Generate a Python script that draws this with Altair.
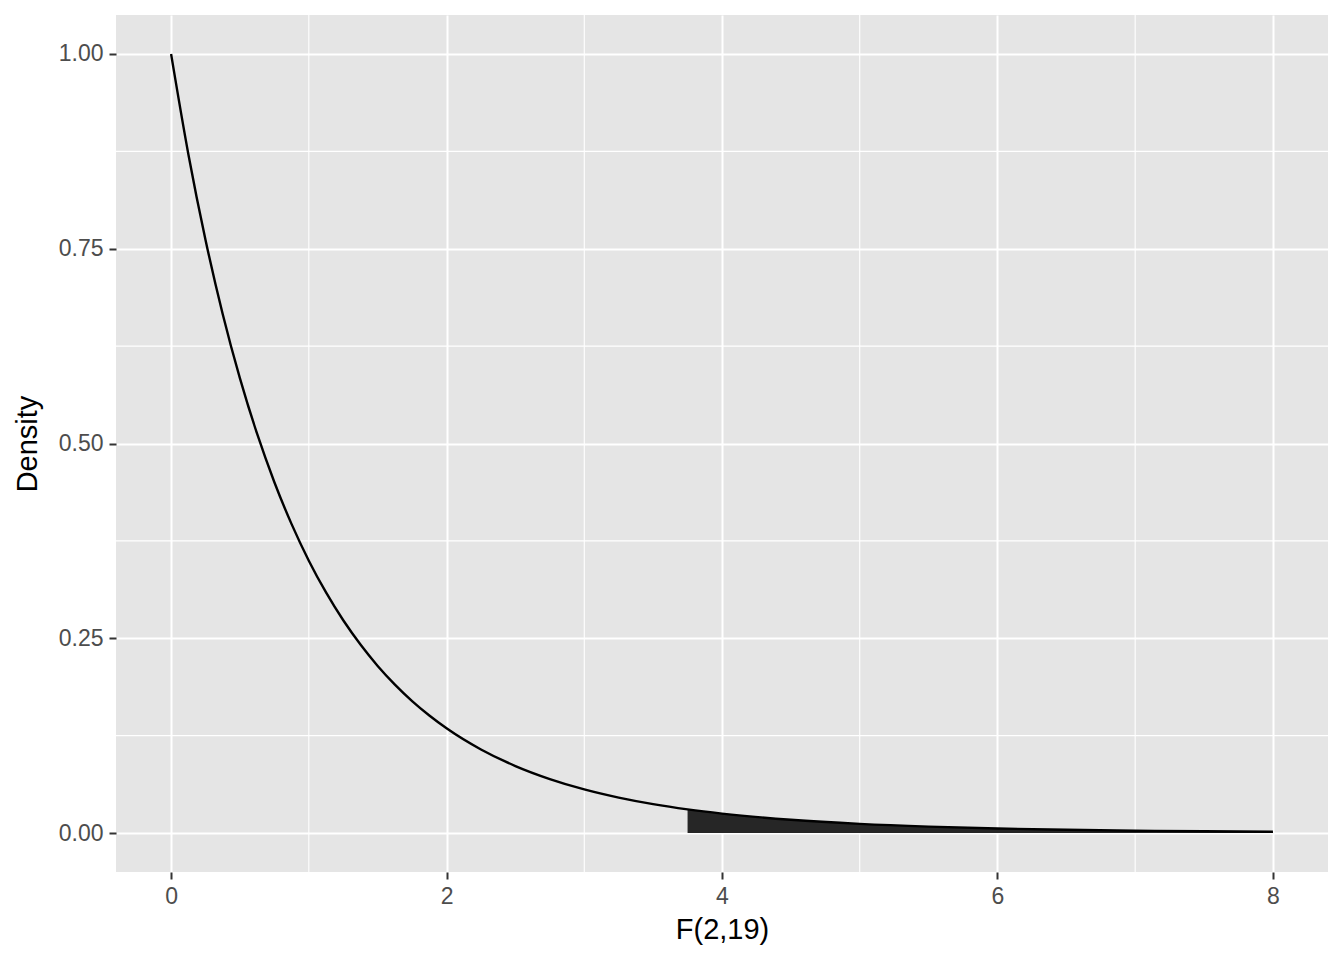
import altair as alt
import pandas as pd

# Values
x_vals = [0, 0.125, 0.25, 0.375, 0.5, 0.625, 0.75, 0.875, 1.0, 1.125, 1.25, 1.375, 1.5,
          1.625, 1.75, 1.875, 2.0, 2.25, 2.5, 2.75, 3.0, 3.25, 3.5, 3.75, 4.0, 4.5, 5.0,
          5.5, 6.0, 6.5, 7.0, 7.5, 8.0]
y_vals = [1.0, 0.8717, 0.7613, 0.6660, 0.5836, 0.5122, 0.4503, 0.3965, 0.3496, 0.3088,
          0.2731, 0.2419, 0.2145, 0.1905, 0.1694, 0.1509, 0.1345, 0.1073, 0.0860, 0.0693,
          0.0560, 0.0455, 0.0371, 0.0304, 0.0250, 0.0171, 0.0118, 0.00826, 0.00585,
          0.00420, 0.00304, 0.00222, 0.00164]
shade_start = 3.75

x_major = [0, 2, 4, 6, 8]
x_minor = [1, 3, 5, 7]
y_major = [0.0, 0.25, 0.5, 0.75, 1.0]
y_minor = [0.125, 0.375, 0.625, 0.875]

df = pd.DataFrame({"x": x_vals, "y": y_vals})
shade = df[df["x"] >= shade_start]

xs = alt.Scale(domain=[-0.4, 8.4], nice=False, zero=False)
ys = alt.Scale(domain=[-0.05, 1.05], nice=False, zero=False)

common = dict(grid=True, gridColor="white", gridWidth=2, domain=False,
              tickColor="#333333", tickWidth=2, tickSize=7,
              labelColor="#4D4D4D", labelFontSize=23, labelFont="Liberation Sans",
              titleFontSize=29, titleColor="black", titleFontWeight="normal",
              titleFont="Liberation Sans")
xaxis = alt.Axis(values=x_major, title="F(2,19)", labelPadding=6, titlePadding=7, **common)
yaxis = alt.Axis(values=y_major, format=".2f", title="Density", labelPadding=6,
                 titlePadding=16, **common)

minor_x = alt.Chart(pd.DataFrame({"v": x_minor})).mark_rule(color="white", strokeWidth=1.1).encode(
    x=alt.X("v:Q", scale=xs, axis=xaxis))
minor_y = alt.Chart(pd.DataFrame({"v": y_minor})).mark_rule(color="white", strokeWidth=1.1).encode(
    y=alt.Y("v:Q", scale=ys, axis=yaxis))

area = alt.Chart(shade).mark_area(color="#262626", interpolate="monotone").encode(
    x=alt.X("x:Q", scale=xs, axis=xaxis),
    y=alt.Y("y:Q", scale=ys, axis=yaxis),
    y2=alt.datum(0))

line = alt.Chart(df).mark_line(color="black", strokeWidth=2.4, interpolate="monotone").encode(
    x=alt.X("x:Q", scale=xs, axis=xaxis),
    y=alt.Y("y:Q", scale=ys, axis=yaxis))

chart = alt.layer(minor_x, minor_y, area, line).properties(
    width=1212, height=857,
    background="white",
    autosize=alt.AutoSizeParams(type="none"),
    padding={"left": 108, "top": 7, "right": 7, "bottom": 80},
).configure_view(fill="#E5E5E5", stroke=None)

chart.save("out.html", embed_options={"renderer": "svg", "actions": False})
